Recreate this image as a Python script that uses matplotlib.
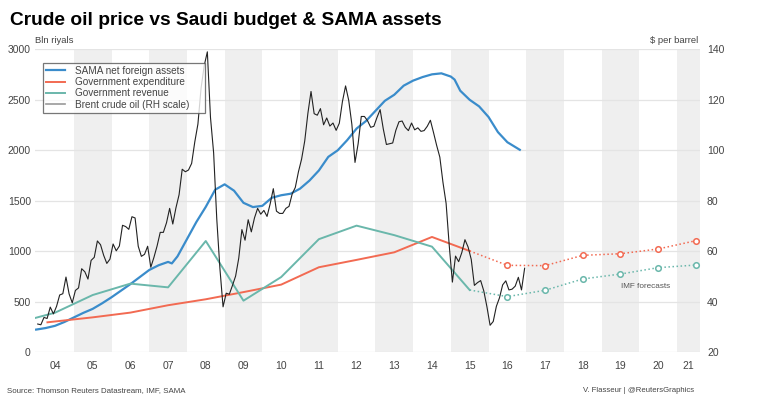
import matplotlib
matplotlib.use("Agg")
import matplotlib.pyplot as plt
from matplotlib.lines import Line2D
import numpy as np

plt.rcParams["font.family"] = ["Liberation Sans", "DejaVu Sans"]

# SAMA net foreign assets (bln riyals)
sama_t = [2004.0, 2004.25, 2004.5, 2004.75, 2005.0, 2005.25, 2005.5, 2005.75,
          2006.0, 2006.25, 2006.5, 2006.75, 2007.0, 2007.25, 2007.5, 2007.6,
          2007.75, 2008.0, 2008.25, 2008.5, 2008.75, 2009.0, 2009.25, 2009.5,
          2009.75, 2010.0, 2010.25, 2010.5, 2010.75, 2011.0, 2011.25, 2011.5,
          2011.75, 2012.0, 2012.25, 2012.5, 2012.75, 2013.0, 2013.25, 2013.5,
          2013.75, 2014.0, 2014.25, 2014.5, 2014.75, 2015.0, 2015.1, 2015.25,
          2015.5, 2015.75, 2016.0, 2016.25, 2016.5, 2016.83]
sama_v = [225, 240, 262, 300, 345, 390, 430, 485,
          545, 610, 675, 745, 815, 862, 895, 880,
          950, 1120, 1290, 1440, 1610, 1663, 1600, 1480,
          1438, 1450, 1530, 1555, 1570, 1620, 1700, 1800,
          1935, 2000, 2100, 2215, 2290, 2390, 2490, 2550,
          2640, 2690, 2725, 2752, 2762, 2730, 2700, 2590,
          2500, 2435, 2330, 2180, 2080, 2005]

# Government expenditure / revenue (bln riyals), actual then IMF forecasts
exp_t = [2004.3, 2005.5, 2006.5, 2007.5, 2008.5, 2009.5, 2010.5, 2011.5,
         2012.5, 2013.5, 2014.5, 2015.5]
exp_v = [297, 346, 393, 466, 525, 596, 670, 842, 915, 990, 1142, 1003]
rev_t = [2003.5, 2004.5, 2005.5, 2006.5, 2007.5, 2008.5, 2009.5, 2010.5,
         2011.5, 2012.5, 2013.5, 2014.5, 2015.5]
rev_v = [293, 392, 567, 680, 643, 1102, 511, 745, 1120, 1254, 1160, 1046, 617]

fc_t = [2016.5, 2017.5, 2018.5, 2019.5, 2020.5, 2021.5]
exp_fc = [861, 858, 960, 976, 1023, 1105]
rev_fc = [551, 614, 726, 775, 838, 864]

# Brent crude, monthly ($ per barrel), Jan 2004 - Dec 2016
brent = [
    31.2, 30.9, 33.8, 33.4, 37.9, 35.2, 38.2, 42.7, 43.2, 49.8, 43.1, 39.6,
    44.5, 45.5, 53.1, 51.9, 49.0, 56.4, 57.6, 64.1, 62.6, 58.4, 55.2, 56.9,
    62.9, 60.2, 62.1, 70.3, 69.8, 68.7, 73.7, 73.2, 62.0, 58.0, 58.8, 62.0,
    53.7, 57.6, 62.1, 67.5, 67.5, 71.3, 77.0, 70.8, 77.2, 82.4, 92.5, 91.5,
    92.2, 94.8, 103.3, 110.4, 124.6, 133.5, 139.0, 113.0, 99.0, 72.8, 53.2, 38.0,
    43.4, 43.0, 46.5, 50.2, 57.3, 68.6, 64.4, 72.5, 67.7, 73.2, 77.0, 74.7,
    76.2, 73.8, 78.8, 84.8, 75.9, 75.0, 75.0, 77.0, 77.8, 82.7, 85.3, 91.5,
    96.5, 103.7, 114.6, 123.3, 114.5, 113.9, 116.5, 110.1, 112.8, 109.6, 110.8, 107.9,
    110.7, 119.3, 125.5, 119.8, 110.3, 95.2, 102.6, 113.4, 113.4, 111.7, 109.1, 109.5,
    113.0, 116.1, 108.5, 102.3, 102.6, 102.9, 107.9, 111.3, 111.6, 109.1, 107.8, 110.8,
    108.1, 108.9, 107.5, 107.8, 109.5, 111.9, 107.0, 101.9, 97.3, 87.3, 79.0, 62.3,
    47.8, 58.1, 55.9, 59.5, 64.6, 61.7, 56.8, 46.5, 47.6, 48.4, 44.3, 38.0,
    30.7, 32.2, 38.2, 41.6, 46.7, 48.3, 44.7, 45.0, 46.2, 49.7, 44.7, 53.3,
]
brent_t = 2004 + (np.arange(len(brent)) + 0.5) / 12

years = list(range(2004, 2022))
shaded = list(range(2005, 2022, 2))

BLUE = "#3a8ccb"
RED = "#f26a52"
TEAL = "#6ab7ab"
GREY_TXT = "#444444"

fig = plt.figure(figsize=(7.68, 3.99), dpi=100)
ax = fig.add_axes([35 / 768, 1 - 352.3 / 399, 665 / 768, 303 / 399])
ax2 = ax.twinx()

x0, x1 = 2003.97, 2021.61
for y in shaded:
    ax.axvspan(y, y + 1, color="#efefef", lw=0, zorder=0)

ax.plot(sama_t, sama_v, color=BLUE, lw=1.6, zorder=3)
ax.plot(exp_t, exp_v, color=RED, lw=1.4, zorder=3)
ax.plot(rev_t, rev_v, color=TEAL, lw=1.4, zorder=3)
ax.plot([exp_t[-1]] + fc_t, [exp_v[-1]] + exp_fc, color=RED, lw=1.1, ls=":", zorder=3)
ax.plot([rev_t[-1]] + fc_t, [rev_v[-1]] + rev_fc, color=TEAL, lw=1.1, ls=":", zorder=3)
ax.plot(fc_t, exp_fc, ls="none", marker="o", ms=4, mfc="white", mec=RED, mew=1.1, zorder=4)
ax.plot(fc_t, rev_fc, ls="none", marker="o", ms=4, mfc="white", mec=TEAL, mew=1.1, zorder=4)
ax.text(2020.17, 656, "IMF forecasts", fontsize=5.9, color="#555555", ha="center", va="center")

ax2.plot(brent_t, brent, color="#222222", lw=0.8)

ax.set_xlim(x0, x1)
ax.set_ylim(0, 3000)
ax2.set_ylim(20, 140)
ax.set_yticks(range(0, 3001, 500))
ax2.set_yticks(range(20, 141, 20))
ax.set_xticks([min(y + 0.5, (y + x1) / 2) for y in years])
ax.set_xticklabels([f"{y % 100:02d}" for y in years])
ax.set_axisbelow(True)
ax.grid(axis="y", color="#e4e4e4", lw=0.9)
ax.grid(axis="x", visible=False)

for a in (ax, ax2):
    for s in a.spines.values():
        s.set_visible(False)
    a.tick_params(length=0, labelsize=7.5, labelcolor=GREY_TXT)
ax.tick_params(axis="x", pad=6)
ax.tick_params(axis="y", pad=3)
ax2.tick_params(axis="y", pad=5)

handles = [Line2D([], [], color=BLUE, lw=1.6),
           Line2D([], [], color=RED, lw=1.4),
           Line2D([], [], color=TEAL, lw=1.4),
           Line2D([], [], color="#999999", lw=1.2)]
labels = ["SAMA net foreign assets", "Government expenditure",
          "Government revenue", "Brent crude oil (RH scale)"]
leg = ax2.legend(handles, labels, loc="upper left", mode="expand",
                 bbox_to_anchor=(0.012, 0.0, 0.244, 0.955),
                 borderaxespad=0, fontsize=7.2, frameon=True, fancybox=False,
                 handlelength=1.9, handletextpad=1.0, labelspacing=0.12,
                 borderpad=0.3, edgecolor="#555555")
leg.get_frame().set_linewidth(0.9)
for t in leg.get_texts():
    t.set_color(GREY_TXT)

fig.text(10 / 768, 1 - 25 / 399, "Crude oil price vs Saudi budget & SAMA assets",
         fontsize=13.8, fontweight="bold", va="baseline", ha="left")
fig.text(35 / 768, 1 - 43 / 399, "Bln riyals", fontsize=6.8, color=GREY_TXT,
         va="baseline", ha="left")
fig.text(698 / 768, 1 - 43 / 399, "$ per barrel", fontsize=6.8, color=GREY_TXT,
         va="baseline", ha="right")
fig.text(7 / 768, 1 - 392 / 399, "Source: Thomson Reuters Datastream, IMF, SAMA",
         fontsize=5.7, color=GREY_TXT, va="baseline", ha="left")
fig.text(694 / 768, 1 - 392 / 399, "V. Flasseur | @ReutersGraphics",
         fontsize=5.6, color=GREY_TXT, va="baseline", ha="right")

fig.savefig("out.png", dpi=100)
